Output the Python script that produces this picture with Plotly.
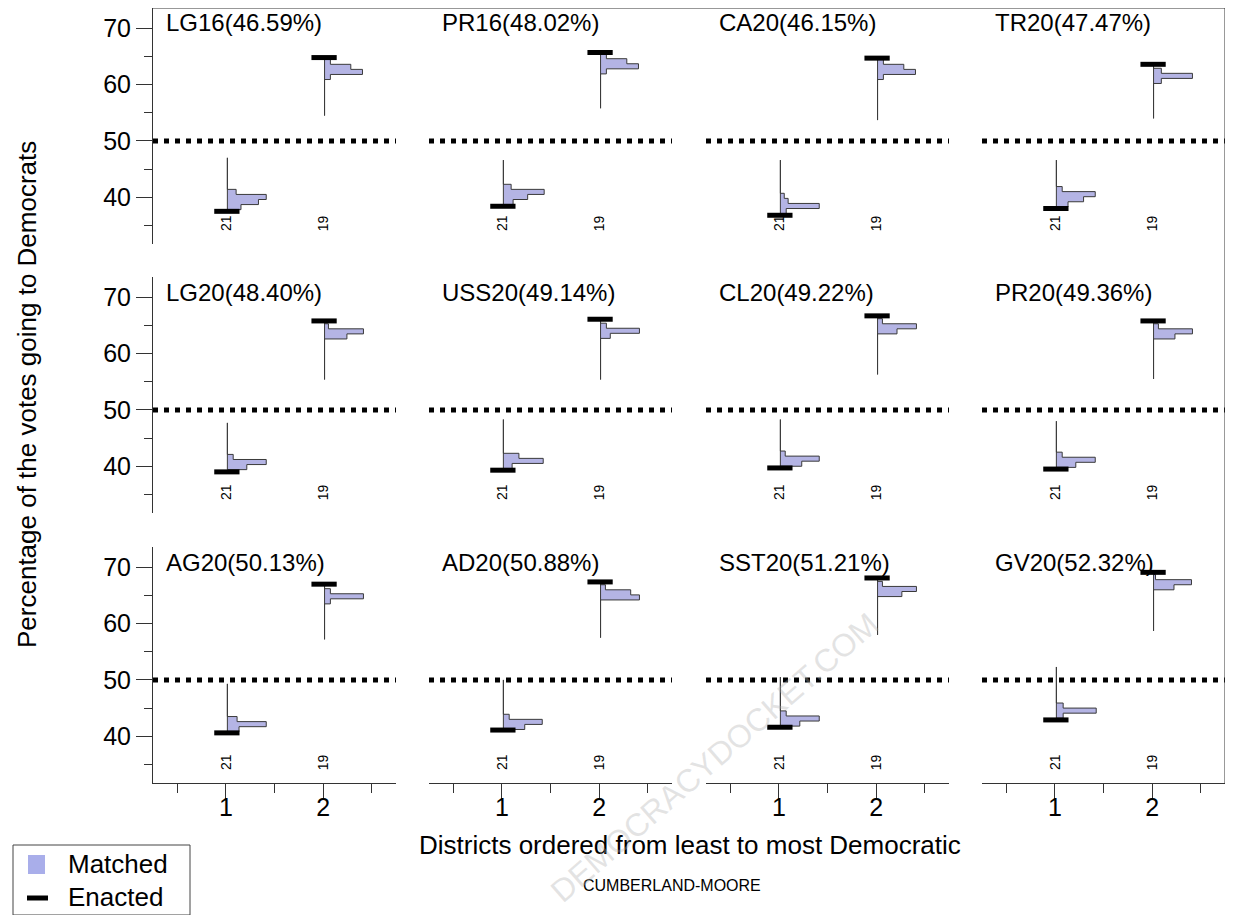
import plotly.graph_objects as go

# the page has an 8px body margin: the figure fills the rest of the 1233x915 window
PAGE_W, PAGE_H, OFF = 1233, 915, 8
W, H = PAGE_W - OFF, PAGE_H - OFF
FONT = "Liberation Sans, Arial, Helvetica, sans-serif"


def px(x):
    return min(1.0, max(0.0, (x - OFF) / W))


def py(y):
    return min(1.0, max(0.0, 1 - (y - OFF) / H))


# ---------------- data ----------------
titles = ["LG16(46.59%)", "PR16(48.02%)", "CA20(46.15%)", "TR20(47.47%)",
          "LG20(48.40%)", "USS20(49.14%)", "CL20(49.22%)", "PR20(49.36%)",
          "AG20(50.13%)", "AD20(50.88%)", "SST20(51.21%)", "GV20(52.32%)"]
districts = [1, 2]
district_labels = ["21", "19"]
x_ticks = [1, 2]
y_ticks = [40, 50, 60, 70]
threshold = 50

enacted_d1 = [37.5, 38.4, 36.8, 38.0, 39.0, 39.3, 39.7, 39.5, 40.6, 41.1, 41.6, 42.9]
enacted_d2 = [64.8, 65.7, 64.7, 63.6, 65.8, 66.1, 66.7, 65.8, 67.0, 67.4, 68.1, 69.1]

bin_size = 0.9
d1_bin_start = [37.8, 38.7, 37.1, 38.3, 39.4, 39.6, 40.0, 39.8, 40.8, 41.2, 41.8, 43.2]
d1_bin_widths = [[0.14, 0.32, 0.40, 0.09],
                 [0.10, 0.25, 0.42, 0.08],
                 [0.06, 0.40, 0.08, 0.04],
                 [0.12, 0.28, 0.40, 0.06],
                 [0.20, 0.40, 0.06],
                 [0.09, 0.41, 0.16],
                 [0.22, 0.40, 0.05],
                 [0.20, 0.40, 0.06],
                 [0.12, 0.40, 0.10],
                 [0.22, 0.40, 0.06],
                 [0.20, 0.40, 0.06],
                 [0.07, 0.41, 0.07]]
d1_tail_top = [47.0, 46.6, 46.6, 46.6, 47.7, 48.3, 48.3, 48.0, 49.3, 50.0, 50.5, 52.3]

d2_bin_start = [60.9, 61.9, 60.9, 60.2, 62.6, 62.7, 63.5, 62.6, 63.5, 64.2, 64.8, 66.0]
d2_bin_widths = [[0.06, 0.39, 0.27, 0.06],
                 [0.06, 0.39, 0.27, 0.06],
                 [0.06, 0.39, 0.27, 0.06],
                 [0.08, 0.40, 0.08],
                 [0.23, 0.40, 0.04],
                 [0.10, 0.40, 0.06],
                 [0.20, 0.40, 0.05],
                 [0.22, 0.40, 0.05],
                 [0.06, 0.40, 0.06],
                 [0.40, 0.31, 0.05],
                 [0.25, 0.40, 0.05],
                 [0.21, 0.39, 0.02]]
d2_tail_bottom = [54.5, 55.8, 53.7, 54.0, 55.4, 55.4, 56.3, 55.5, 57.2, 57.5, 58.0, 58.7]

legend_labels = ["Matched", "Enacted"]

# ---------------- layout geometry (page pixels) ----------------
col_left = [153, 429, 706, 982]
row_top = [8, 277, 547]
pw, ph = 243, 236
x_range = [0.25, 2.75]
y_range = [31.7, 73.6]

MATCH_FILL = "#b4b4e4"
OUTLINE = "#3a3a3a"
AX = "#333333"


def hist_poly(base, start, widths, tail_lo, tail_hi):
    xs, ys = [base, base], [tail_lo, start]
    y = start
    for w in widths:
        xs += [base + w, base + w]
        ys += [y, y + bin_size]
        y += bin_size
    xs += [base, base, base]
    ys += [y, tail_hi, tail_lo]
    return xs, ys


fig = go.Figure()
annotations = []

for k in range(12):
    r, c = divmod(k, 4)
    ax = "" if k == 0 else str(k + 1)
    xref, yref = "x" + ax, "y" + ax
    l, t = col_left[c], row_top[r]
    bottom_row = r == 2
    left_col = c == 0
    fig.layout["xaxis" + ax] = dict(
        domain=[px(l), px(l + pw)], range=x_range, anchor=yref,
        showgrid=False, zeroline=False, fixedrange=True,
        tickvals=x_ticks, showticklabels=bottom_row,
        ticks="outside" if bottom_row else "", ticklen=15, tickwidth=1,
        tickcolor=AX, ticklabelstandoff=-13,
        minor=dict(tickvals=[0.5, 1.5, 2.5], ticks="outside" if bottom_row else "",
                   ticklen=9, tickcolor=AX),
        showline=bottom_row, linecolor=AX, linewidth=1,
        tickfont=dict(size=25, color="black", family=FONT),
    )
    fig.layout["yaxis" + ax] = dict(
        domain=[py(t + ph), py(t)], range=y_range, anchor=xref,
        showgrid=False, zeroline=False, fixedrange=True,
        tickvals=y_ticks, showticklabels=left_col,
        ticks="outside" if left_col else "", ticklen=16, tickwidth=1,
        tickcolor=AX,
        minor=dict(tickvals=[35, 45, 55, 65], ticks="outside" if left_col else "",
                   ticklen=8, tickcolor=AX),
        showline=left_col, linecolor=AX, linewidth=1,
        tickfont=dict(size=25, color="black", family=FONT),
    )

    # 50% dotted line
    fig.add_trace(go.Scatter(x=x_range, y=[threshold, threshold], mode="lines",
                             line=dict(color="black", width=5, dash="5px,6px"),
                             xaxis=xref, yaxis=yref, showlegend=False,
                             hoverinfo="skip"))

    # matched distributions
    for d, start, widths, lo, hi in [
        (districts[0], d1_bin_start[k], d1_bin_widths[k], d1_bin_start[k], d1_tail_top[k]),
        (districts[1], d2_bin_start[k], d2_bin_widths[k], d2_tail_bottom[k], enacted_d2[k] - 0.2),
    ]:
        xs, ys = hist_poly(d + 0.015, start, widths, min(lo, start),
                           max(hi, start + bin_size * len(widths)))
        fig.add_trace(go.Scatter(x=xs, y=ys, mode="lines", fill="toself",
                                 fillcolor=MATCH_FILL,
                                 line=dict(color=OUTLINE, width=1),
                                 xaxis=xref, yaxis=yref, showlegend=False,
                                 hoverinfo="skip"))

    # enacted bars
    for d, v in [(districts[0], enacted_d1[k]), (districts[1], enacted_d2[k])]:
        fig.add_trace(go.Scatter(x=[d - 0.12, d + 0.14], y=[v, v], mode="lines",
                                 line=dict(color="black", width=5),
                                 xaxis=xref, yaxis=yref, showlegend=False,
                                 hoverinfo="skip"))

    # district size labels
    for d, lab in zip(districts, district_labels):
        annotations.append(dict(x=d, y=35.4, xref=xref, yref=yref, text=lab,
                                showarrow=False, textangle=-90,
                                xanchor="center", yanchor="middle",
                                font=dict(size=14, color="black", family=FONT)))

    # panel title
    annotations.append(dict(x=px(l + 11), y=py(t + 15), xref="paper", yref="paper",
                            text=titles[k], showarrow=False, xanchor="left",
                            yanchor="middle",
                            font=dict(size=24, color="black", family=FONT)))

annotations += [
    dict(x=px(690), y=py(845), xref="paper", yref="paper",
         text="Districts ordered from least to most Democratic", showarrow=False,
         xanchor="center", yanchor="middle",
         font=dict(size=26, color="black", family=FONT)),
    dict(x=px(672), y=py(885), xref="paper", yref="paper",
         text="CUMBERLAND-MOORE", showarrow=False,
         xanchor="center", yanchor="middle",
         font=dict(size=16, color="black", family=FONT)),
    dict(x=px(27), y=py(395), xref="paper", yref="paper",
         text="Percentage of the votes going to Democrats", showarrow=False,
         xanchor="center", yanchor="middle",
         textangle=-90, font=dict(size=26, color="black", family=FONT)),
    dict(x=px(714), y=py(758), xref="paper", yref="paper",
         text="DEMOCRACYDOCKET.COM", showarrow=False, textangle=-41,
         xanchor="center", yanchor="middle",
         font=dict(size=32, color="rgba(175,175,175,0.35)", family=FONT)),
    # legend texts
    dict(x=px(66), y=py(864), xref="paper", yref="paper", text=legend_labels[0],
         showarrow=False, xanchor="left", yanchor="middle",
         font=dict(size=26, color="black", family=FONT)),
    dict(x=px(66), y=py(897), xref="paper", yref="paper", text=legend_labels[1],
         showarrow=False, xanchor="left", yanchor="middle",
         font=dict(size=26, color="black", family=FONT)),
]

shapes = [
    # outer frame: top and right
    dict(type="line", xref="paper", yref="paper", x0=px(153), x1=px(1225),
         y0=py(8), y1=py(8), line=dict(color=AX, width=1)),
    dict(type="line", xref="paper", yref="paper", x0=px(1225), x1=px(1225),
         y0=py(8), y1=py(784), line=dict(color=AX, width=1)),
    # legend box and keys
    dict(type="rect", xref="paper", yref="paper", x0=px(13), x1=px(190),
         y0=py(915), y1=py(845), line=dict(color="#444", width=1),
         fillcolor="white", layer="below"),
    dict(type="rect", xref="paper", yref="paper", x0=px(28), x1=px(45),
         y0=py(874), y1=py(855), line=dict(width=0), fillcolor="#a9aeea"),
    dict(type="line", xref="paper", yref="paper", x0=px(27), x1=px(48),
         y0=py(898), y1=py(898), line=dict(color="black", width=5)),
]

fig.update_layout(
    width=W, height=H, margin=dict(l=0, r=0, t=0, b=0),
    paper_bgcolor="white", plot_bgcolor="white",
    annotations=annotations, shapes=shapes,
    showlegend=False,
    font=dict(family=FONT),
)

fig.write_html("out.html")
